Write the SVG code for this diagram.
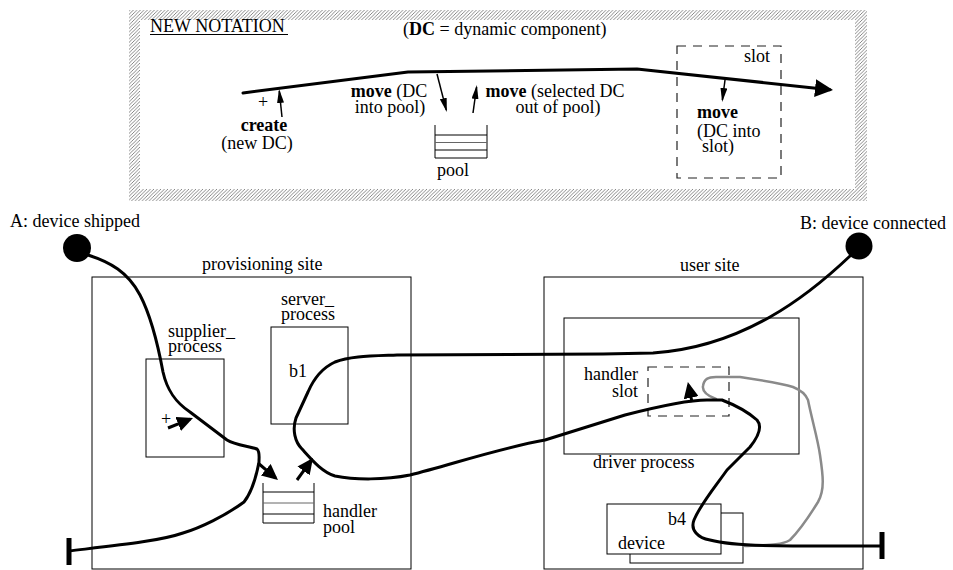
<svg xmlns="http://www.w3.org/2000/svg" width="953" height="570" viewBox="0 0 953 570" font-family="'Liberation Serif', 'Times New Roman', serif">
  <style>
    text { font-family: "Liberation Serif", "Times New Roman", serif; font-size: 18px; fill: #000; }
    .b { font-weight: bold; }
    .box { fill: none; stroke: #000; stroke-width: 1; }
    .dash { fill: none; stroke: #222; stroke-width: 1.2; stroke-dasharray: 9 7; }
    .path { fill: none; stroke: #000; stroke-width: 3; stroke-linejoin: round; stroke-linecap: round; }
    .grey { fill: none; stroke: #8a8a8a; stroke-width: 2.5; stroke-linejoin: round; stroke-linecap: round; }
    .thin { fill: none; stroke: #000; stroke-width: 1.5; }
    .stem { fill: none; stroke: #000; stroke-width: 3; }
    .bar { stroke: #000; stroke-width: 5; }
    .pool { fill: none; stroke: #000; stroke-width: 1; }
  </style>
  <defs>
    <pattern id="hatch" patternUnits="userSpaceOnUse" width="3.5" height="3.5">
      <path d="M-1,1 L1,-1 M0,3.5 L3.5,0 M2.5,4.5 L4.5,2.5" stroke="#6a6a6a" stroke-width="0.8"/>
    </pattern>
    <marker id="slender" markerUnits="userSpaceOnUse" markerWidth="14" markerHeight="7" refX="12" refY="3.5" orient="auto">
      <path d="M0,0 L14,3.5 L0,7 z" fill="#000"/>
    </marker>
    <marker id="head" markerUnits="userSpaceOnUse" markerWidth="16" markerHeight="15" refX="13" refY="7.5" orient="auto">
      <path d="M0,0 L16,7.5 L0,15 z" fill="#000"/>
    </marker>
    <marker id="bighead" markerUnits="userSpaceOnUse" markerWidth="18" markerHeight="18" refX="15" refY="9" orient="auto">
      <path d="M0,0 L18,9 L0,18 z" fill="#000"/>
    </marker>
  </defs>

  <rect width="953" height="570" fill="#fff"/>

  <!-- legend panel -->
  <g id="legend">
    <rect x="129" y="10" width="738" height="191" fill="url(#hatch)"/>
    <rect x="140" y="20" width="715" height="169" fill="#fff"/>
    <text x="150" y="32" font-size="17">NEW NOTATION</text>
    <line x1="150" y1="34.5" x2="288" y2="34.5" stroke="#000" stroke-width="1.2"/>
    <text x="403" y="35">(<tspan class="b">DC</tspan> = dynamic component)</text>

    <path class="path" d="M243,93 L408,72 L637,69 L830,89.7" marker-end="url(#bighead)"/>

    <g id="legend-create">
      <path class="thin" d="M282,117 L279.3,91" marker-end="url(#slender)"/>
      <text x="263" y="108" font-size="16" text-anchor="middle">+</text>
      <text text-anchor="middle"><tspan x="264" y="131" class="b">create</tspan><tspan x="257" y="149">(new DC)</tspan></text>
    </g>

    <g id="legend-pool">
      <path class="pool" d="M435,125 V158 H487 V125 M435,135 H487 M435,150 H487"/>
      <line x1="435" y1="142.5" x2="487" y2="142.5" stroke="#666" stroke-width="1"/>
      <text x="437" y="176">pool</text>
      <path class="thin" d="M437,74 L446.3,110.1" marker-end="url(#slender)"/>
      <path class="thin" d="M473,113 L476.6,87" marker-end="url(#slender)"/>
      <text text-anchor="middle"><tspan x="389" y="97"><tspan class="b">move</tspan> (DC</tspan><tspan x="390" y="113">into pool)</tspan></text>
      <text text-anchor="middle"><tspan x="555" y="97"><tspan class="b">move</tspan> (selected DC</tspan><tspan x="558" y="113">out of pool)</tspan></text>
    </g>

    <g id="legend-slot">
      <rect class="dash" x="677" y="46" width="104" height="132"/>
      <text x="744" y="62">slot</text>
      <path class="thin" d="M725,80 L722.4,100" marker-end="url(#slender)"/>
      <text><tspan x="697" y="118" class="b">move</tspan><tspan x="697" y="137">(DC into</tspan><tspan x="702" y="152">slot)</tspan></text>
    </g>
  </g>

  <!-- start / end points -->
  <g id="start-a">
    <circle cx="77" cy="248" r="14" fill="#000"/>
    <text x="10" y="227">A: device shipped</text>
  </g>
  <g id="start-b">
    <circle cx="859" cy="246" r="13.5" fill="#000"/>
    <text x="800" y="229">B: device connected</text>
  </g>

  <!-- provisioning site -->
  <g id="provisioning-site">
    <rect class="box" x="92" y="277" width="319" height="292"/>
    <text x="202" y="270">provisioning site</text>
  </g>
  <g id="supplier-process">
    <rect class="box" x="146" y="359" width="78" height="98"/>
    <text><tspan x="168" y="337">supplier_</tspan><tspan x="168" y="352">process</tspan></text>
    <text x="161" y="425" font-size="15">+</text>
  </g>
  <g id="server-process">
    <rect class="box" x="271" y="327" width="77" height="97"/>
    <text><tspan x="281" y="305">server_</tspan><tspan x="281" y="320">process</tspan></text>
    <text x="289" y="377">b1</text>
  </g>
  <g id="handler-pool">
    <path class="pool" d="M263,483 V523 H314 V483 M263,492 H314 M263,514 H314"/>
    <line x1="263" y1="503" x2="314" y2="503" stroke="#666" stroke-width="1"/>
    <text><tspan x="323" y="517">handler</tspan><tspan x="323" y="533">pool</tspan></text>
  </g>

  <!-- user site -->
  <g id="user-site">
    <rect class="box" x="544" y="277" width="319" height="292"/>
    <text x="680" y="271">user site</text>
  </g>
  <g id="driver-process">
    <rect class="box" x="564" y="318" width="235" height="136"/>
    <text x="593" y="468">driver process</text>
  </g>
  <g id="handler-slot">
    <rect class="dash" x="648" y="367" width="81" height="49"/>
    <text text-anchor="end"><tspan x="638" y="380">handler</tspan><tspan x="638" y="397">slot</tspan></text>
  </g>
  <g id="device">
    <rect class="box" x="630" y="513" width="113" height="50" fill="#fff"/>
    <rect x="607" y="504" width="114" height="50" fill="#fff" stroke="#000" stroke-width="1"/>
    <text x="668" y="525">b4</text>
    <text x="618" y="549">device</text>
  </g>

  <!-- scenario paths -->
  <g id="connectors">
    <path class="grey" d="M716,399 C708,396 702,392 703,386 C704,379 708,377 716,377 L740,377 C760,380 780,383 793,387 C803,391 806,395 808,400 C812,420 818,440 820,455 C823,475 825,490 818,502 C810,515 800,530 790,540 C782,545 770,545 745,546"/>

    <path class="path" d="M88,255 C110,262 128,272 140,295 C152,318 158,345 163,372 C167,390 175,402 190,412 L227,440 C235,445 248,446 257,449 C260,452 259,456 259,462 C256,478 252,492 244,502 C225,516 200,528 183,533 C160,541 120,545 69,551"/>
    <line class="bar" x1="69" y1="538" x2="69" y2="565"/>

    <path class="path" d="M850,256 C830,275 800,300 770,317 C740,334 700,350 653,353 L603,354 L397,355 C370,356 350,356 335,362 C322,368 314,378 308,392 L296,418 C292,430 295,442 302,449 C312,460 322,472 335,476 C355,480 385,480 410,475 C450,465 500,448 545,440 L625,415 C660,406 690,400 707,400 L722,400 C735,405 748,412 757,420 C763,427 758,437 750,447 L727,470 C715,487 700,505 694,520 C690,530 698,538 710,540 C725,544 745,546 793,546 L882,546"/>
    <line class="bar" x1="882" y1="532" x2="882" y2="559"/>

    <path class="stem" d="M168,428 L190.2,419.1" marker-end="url(#head)"/>
    <path class="stem" d="M258,463 L275.7,478.1" marker-end="url(#head)"/>
    <path class="stem" d="M297,480 L311.2,460.4" marker-end="url(#head)"/>
    <path class="stem" d="M692,402 L688.5,385" marker-end="url(#head)"/>
  </g>
</svg>
